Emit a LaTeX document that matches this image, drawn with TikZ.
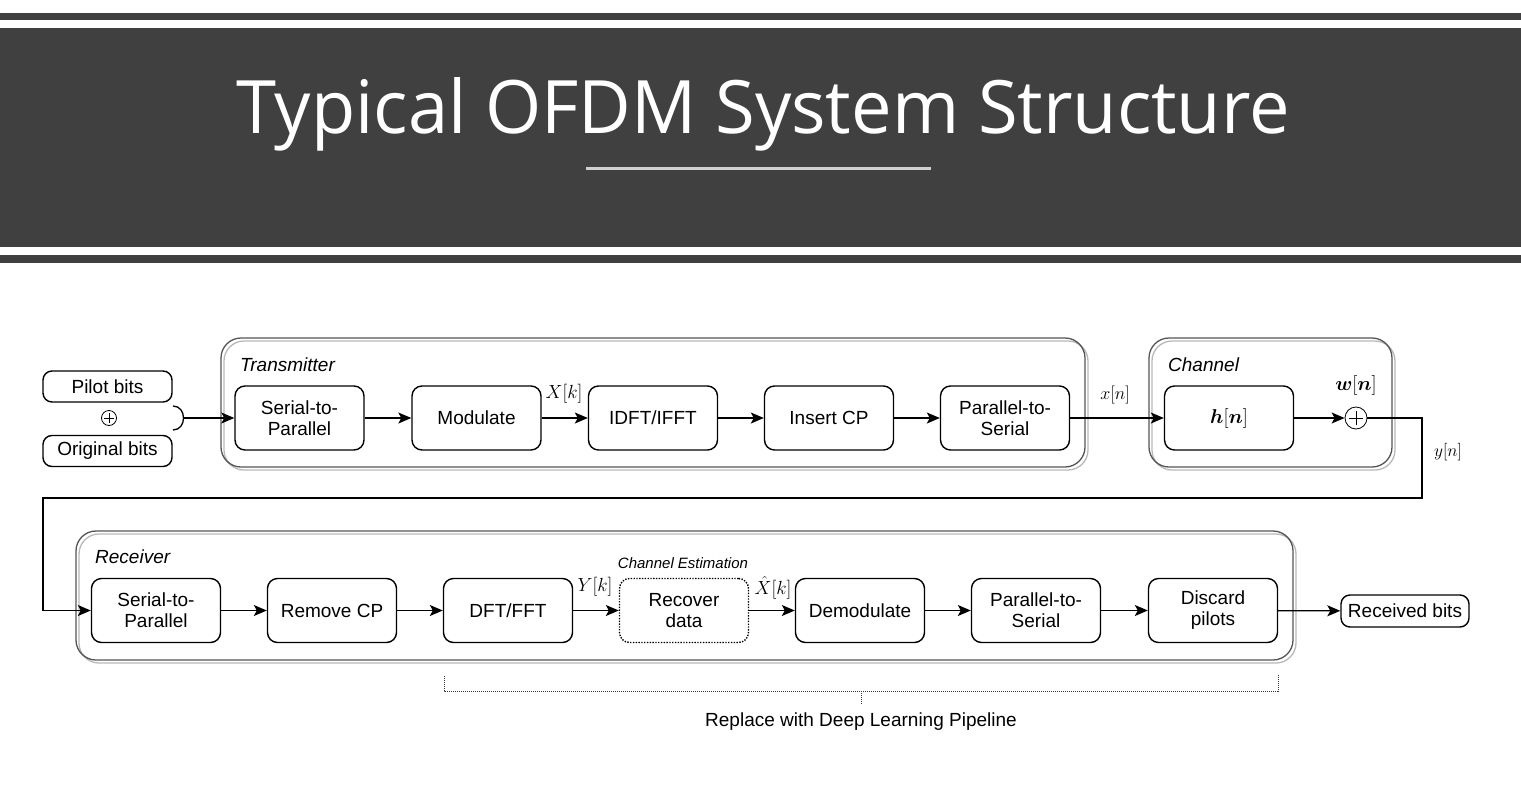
\RequirePackage{fix-cm}
\documentclass[tikz,border=0pt]{standalone}
\usepackage{fontspec}
\usepackage{amsmath}
\usepackage{graphicx}
\setmainfont{Liberation Sans}
\newfontfamily\titlefont{Open Sans}
\usetikzlibrary{arrows.meta}

\definecolor{banner}{HTML}{404040}
\definecolor{titlerule}{HTML}{D0D0D0}
\definecolor{grpdark}{HTML}{555555}
\definecolor{grplight}{HTML}{B8B8B8}

\tikzset{
  block/.style={draw, line width=1.4pt, rounded corners=10pt, minimum width=129pt,
    minimum height=64pt, align=center, font=\fontsize{19}{21}\selectfont},
  bits/.style={draw, line width=1.4pt, rounded corners=9pt, minimum width=129pt,
    minimum height=31pt, font=\fontsize{19}{21}\selectfont},
  estbox/.style={block, dash pattern=on 1.4pt off 1.4pt},
  adder/.style={draw, circle, line width=0.8pt, inner sep=0pt, minimum size=#1,
    path picture={
      \draw[line width=0.8pt] ([xshift=-0.34*#1]path picture bounding box.center)
        -- ([xshift=0.34*#1]path picture bounding box.center);
      \draw[line width=0.8pt] ([yshift=-0.34*#1]path picture bounding box.center)
        -- ([yshift=0.34*#1]path picture bounding box.center);}},
  arr/.style={line width=1.2pt, -{Stealth[length=13pt,width=11pt,inset=3pt]}},
  lbl/.style={font=\fontsize{19}{21}\selectfont, inner sep=0pt},
  grouplbl/.style={font=\fontsize{19}{21}\selectfont\itshape, anchor=west, inner sep=0pt},
  grpdk/.style={draw=grpdark, line width=1.3pt, rounded corners=20pt},
  grplt/.style={draw=grplight, line width=1.3pt, rounded corners=20pt},
  brace/.style={line width=1pt, color=black!80, dash pattern=on 1pt off 1pt},
}

\begin{document}
\begin{tikzpicture}[x=1pt,y=-1pt]
  \useasboundingbox (0,0) rectangle (1521,806);

  % banner
  \fill[banner] (0,13) rectangle (1521,20);
  \fill[banner] (0,28) rectangle (1521,247);
  \fill[banner] (0,255) rectangle (1521,263);
  \node[text=white, anchor=base, inner sep=0pt] (title) at (763,133)
    {\resizebox{1053pt}{56pt}{\titlefont Typical OFDM System Structure}};
  \draw[titlerule, line width=3pt] (586,168) -- (931,168);

  % groups
  \draw[grplt] (224,341) rectangle (1088,470);
  \draw[grpdk] (221,338) rectangle (1085,467);
  \draw[grplt] (1152,341) rectangle (1395,470);
  \draw[grpdk] (1149,338) rectangle (1392,467);
  \draw[grplt] (79,534) rectangle (1296,663);
  \draw[grpdk] (76,531) rectangle (1293,660);
  \node[grouplbl] (txlbl) at (240,365) {Transmitter};
  \node[grouplbl] (chlbl) at (1168,365) {Channel};
  \node[grouplbl] (rxlbl) at (95,557) {Receiver};

  % input bits
  \node[bits] (pilot) at (107.5,386.5) {Pilot bits};
  \node[adder=15pt] (padd) at (109,418) {};
  \node[bits] (orig) at (107.5,451) {Original bits};
  \draw[line width=1.3pt] (173,406) .. controls (187,406) and (187,430) .. (173,430);
  \coordinate (merge) at (184,418);

  % transmitter
  \node[block] (tsp) at (299.5,418) {Serial-to-\\Parallel};
  \node[block] (mod) at (476.5,418) {Modulate};
  \node[block] (idft) at (653,418) {IDFT/IFFT};
  \node[block] (icp) at (829,418) {Insert CP};
  \node[block] (tps) at (1005,418) {Parallel-to-\\Serial};

  % channel
  \node[block, font=\fontsize{20}{22}\selectfont] (hn) at (1229,418) {$\boldsymbol{h}[\boldsymbol{n}]$};
  \node[adder=22pt] (sum) at (1356,418) {};
  \coordinate (yturn) at (1422,498);
  \coordinate (yleft) at (43,498);

  % receiver
  \node[block] (rsp) at (156,610.5) {Serial-to-\\Parallel};
  \node[block] (rcp) at (332,610.5) {Remove CP};
  \node[block] (dft) at (508,610.5) {DFT/FFT};
  \node[estbox] (rec) at (684,610.5) {Recover\\data};
  \node[block] (dem) at (860,610.5) {Demodulate};
  \node[block] (rps) at (1036,610.5) {Parallel-to-\\Serial};
  \node[block] (dis) at (1213,610.5) {Discard\\pilots};
  \node[bits, minimum width=128pt, minimum height=32pt] (out) at (1405,611) {Received bits};

  % signal labels
  \node[lbl] (xk) at (564,394) {$X[k]$};
  \node[lbl, font=\fontsize{18}{20}\selectfont] (xn) at (1115,395) {$x[n]$};
  \node[lbl, font=\fontsize{20}{22}\selectfont] (wn) at (1356,385) {$\boldsymbol{w}[\boldsymbol{n}]$};
  \node[lbl, font=\fontsize{17.5}{20}\selectfont] (yn) at (1448,452) {$y[n]$};
  \node[lbl] (yk) at (595,587) {$Y[k]$};
  \node[lbl] (xhk) at (773,588) {$\hat{X}[k]$};
  \node[inner sep=0pt, font=\fontsize{15}{17}\selectfont\itshape] (chest) at (683,563) {Channel Estimation};

  % arrows
  \draw[arr] (merge) -- (tsp);
  \draw[arr] (tsp) -- (mod);
  \draw[arr] (mod) -- (idft);
  \draw[arr] (idft) -- (icp);
  \draw[arr] (icp) -- (tps);
  \draw[arr] (tps) -- (hn);
  \draw[arr] (hn) -- (sum);
  \draw[arr] (sum.east) -| (yturn) -- (yleft) |- (rsp.west);
  \draw[arr] (rsp) -- (rcp);
  \draw[arr] (rcp) -- (dft);
  \draw[arr] (dft) -- (rec);
  \draw[arr] (rec) -- (dem);
  \draw[arr] (dem) -- (rps);
  \draw[arr] (rps) -- (dis);
  \draw[arr] (dis) -- (out);

  % deep learning bracket
  \node[inner sep=0pt, font=\fontsize{19}{21}\selectfont] (dl) at (861,722) {Replace with Deep Learning Pipeline};
  \coordinate (brl) at (444,676);
  \coordinate (brr) at (1278,675);
  \coordinate (brm) at (861,691);
  \draw[brace] (brl) -- (444,691) -- (1278,691) -- (brr);
  \draw[brace] (brm) -- (861,705);
\end{tikzpicture}
\end{document}
